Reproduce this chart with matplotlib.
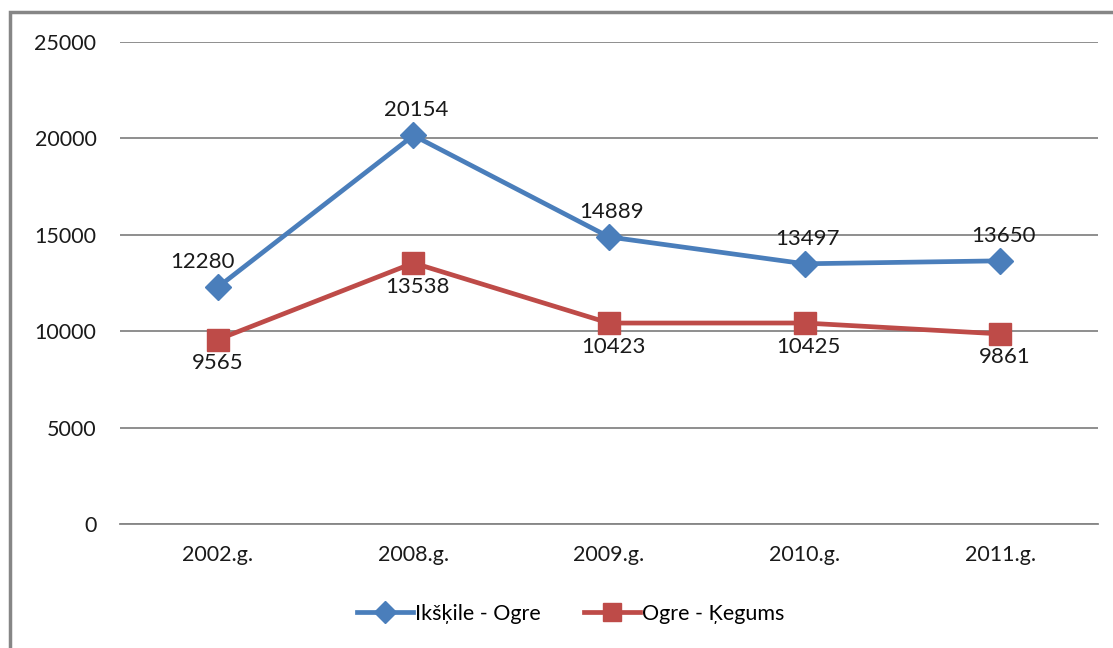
import matplotlib
matplotlib.use("Agg")
import matplotlib.pyplot as plt
from matplotlib.patches import Rectangle

categories = ["2002.g.", "2008.g.", "2009.g.", "2010.g.", "2011.g."]
ikskile_ogre = [12280, 20154, 14889, 13497, 13650]
ogre_kegums = [9565, 13538, 10423, 10425, 9861]
yticks = [0, 5000, 10000, 15000, 20000, 25000]

plt.rcParams['font.family'] = ['Lato', 'DejaVu Sans']

fig = plt.figure(figsize=(11.13, 6.48), dpi=100)
ax = fig.add_axes([120/1113, 1-524/648, (1098-120)/1113, (524-42)/648])

blue = "#4A7EBB"
red = "#BE4B48"
grid = "#868686"
txt = "#1a1a1a"

x = list(range(len(categories)))
ax.plot(x, ikskile_ogre, color=blue, lw=3.4, marker="D", ms=13, label="Ikšķile - Ogre", zorder=3)
ax.plot(x, ogre_kegums, color=red, lw=3.4, marker="s", ms=16, label="Ogre - Ķegums", zorder=3)

ax.set_xlim(-0.5, len(categories) - 0.5)
ax.set_ylim(0, 25000)
ax.set_yticks(yticks)
ax.set_yticklabels([str(v) for v in yticks])
ax.set_xticks(x)
ax.set_xticklabels(categories)
ax.tick_params(axis="both", length=0, labelsize=15.5, colors=txt)
ax.tick_params(axis="y", pad=17)
ax.tick_params(axis="x", pad=15)
ax.yaxis.grid(True, color=grid, lw=1.3)
ax.set_axisbelow(True)
for s in ["top", "right", "left"]:
    ax.spines[s].set_visible(False)
ax.spines["bottom"].set_color(grid)
ax.spines["bottom"].set_linewidth(1.3)

for i, v in enumerate(ikskile_ogre):
    dx = -11 if i == 0 else 2
    ax.annotate(str(v), (i, v), xytext=(dx, 18), textcoords="offset points",
                ha="center", va="center", fontsize=16, color=txt)
for i, v in enumerate(ogre_kegums):
    dx = 0 if i == 0 else 3
    ax.annotate(str(v), (i, v), xytext=(dx, -17), textcoords="offset points",
                ha="center", va="center", fontsize=16, color=txt)

leg = fig.legend(loc="center", bbox_to_anchor=(571/1113, 1-614/648), ncol=2,
                 frameon=False, fontsize=15.5, handlelength=2.6, handletextpad=0.1,
                 columnspacing=2.0, markerscale=0.85)

fig.patches.append(Rectangle((10/1113, -0.1), 1.2, 1-12/648+0.1, transform=fig.transFigure,
                             fill=False, edgecolor=grid, lw=2.5))

fig.savefig("out.png", dpi=100, facecolor="white")
